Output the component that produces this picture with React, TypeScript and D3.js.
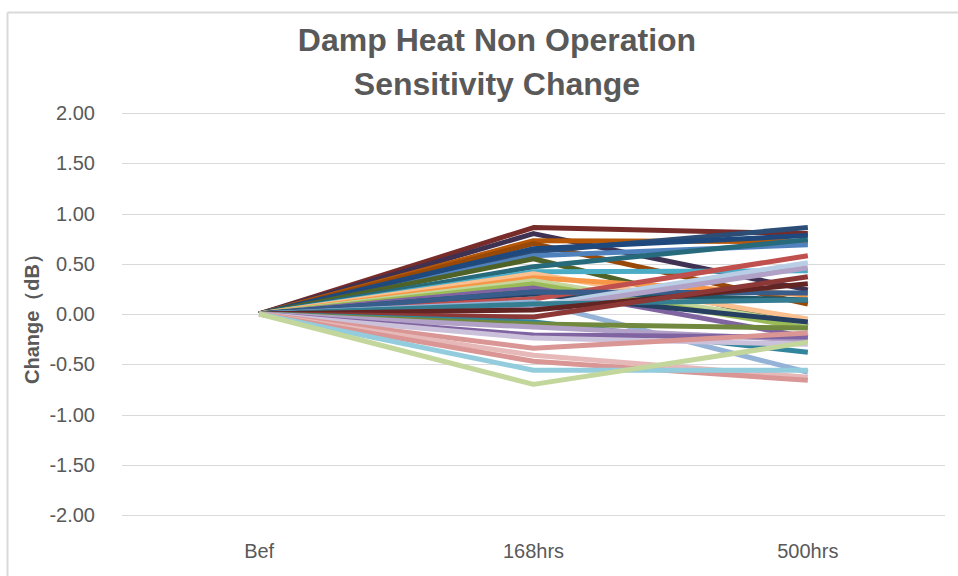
import React from "react";
import * as d3 from "d3";

// categories along the x axis
const categories = ["Bef", "168hrs", "500hrs"];

// y ticks (dB)
const yTicks = [2, 1.5, 1, 0.5, 0, -0.5, -1, -1.5, -2];

// each sample: change at Bef, 168hrs, 500hrs
const seriesValues = [
  [0, 0.86, 0.8],
  [0, 0.8, 0.24],
  [0, 0.73, 0.72],
  [0, 0.7, 0.1],
  [0, 0.62, 0.86],
  [0, 0.58, 0.69],
  [0, 0.65, 0.78],
  [0, 0.55, -0.12],
  [0, 0.47, 0.74],
  [0, 0.42, 0.43],
  [0, 0.4, -0.05],
  [0, 0.36, 0.19],
  [0, 0.33, -0.1],
  [0, 0.3, -0.14],
  [0, 0.26, -0.23],
  [0, 0.22, 0.14],
  [0, 0.2, -0.08],
  [0, 0.15, 0.58],
  [0, 0.22, 0.21],
  [0, 0.12, -0.58],
  [0, 0.08, 0.51],
  [0, 0.05, 0.46],
  [0, 0.1, 0.14],
  [0, 0.04, 0.3],
  [0, -0.03, 0.37],
  [0, -0.08, -0.38],
  [0, -0.1, -0.14],
  [0, -0.13, -0.26],
  [0, -0.21, -0.23],
  [0, -0.24, -0.3],
  [0, -0.34, -0.19],
  [0, -0.41, -0.63],
  [0, -0.47, -0.66],
  [0, -0.56, -0.56],
  [0, -0.7, -0.28],
];

const seriesColors = [
  "#772C2A", "#3F3151", "#B65708", "#984807", "#2C4D75", "#4F81BD",
  "#1F497D", "#4F6228", "#276A7C", "#4BACC6", "#FAC090", "#F79646",
  "#C3D69B", "#9BBB59", "#8064A2", "#215968", "#254061", "#C0504D",
  "#385D8A", "#95B3D7", "#B9CDE5", "#B2A1C7", "#357D91", "#632523",
  "#8C3836", "#31859C", "#71893F", "#B2A1C7", "#8064A2", "#CCC1DA",
  "#D99694", "#E6B9B8", "#D99694", "#93CDDD", "#C3D69B",
];

const W = 958;
const H = 576;
const left = 122;
const right = 945;
const top = 113;
const bottom = 515;
const textColor = "#595959";
const gridColor = "#d9d9d9";
const font = "'Liberation Sans', Arial, sans-serif";

export default function App() {
  const x = d3.scaleBand().domain(categories).range([left, right]);
  const cx = (c) => x(c) + x.bandwidth() / 2;
  const y = d3.scaleLinear().domain([-2, 2]).range([bottom, top]);
  // plain hyphen for negatives, like the original
  const fmt = (v) => v.toFixed(2);

  const line = d3
    .line()
    .x((d, i) => cx(categories[i]))
    .y((d) => y(d));

  return (
    <svg
      width={W}
      height={H}
      style={{ position: "absolute", left: 0, top: 0, background: "#fff" }}
      fontFamily={font}
    >
      {/* chart frame, only left and top visible */}
      <line x1={7.5} y1={12.5} x2={W} y2={12.5} stroke={gridColor} strokeWidth={2} />
      <line x1={7.5} y1={12.5} x2={7.5} y2={H} stroke={gridColor} strokeWidth={2} />

      <text x={497} y={51} textAnchor="middle" fontSize={32} fontWeight="bold" fill={textColor}>
        Damp Heat Non Operation
      </text>
      <text x={497} y={95} textAnchor="middle" fontSize={32} fontWeight="bold" fill={textColor}>
        Sensitivity Change
      </text>

      {yTicks.map((t) => (
        <g key={t}>
          <line x1={left} x2={right} y1={Math.round(y(t)) + 0.5} y2={Math.round(y(t)) + 0.5} stroke={gridColor} strokeWidth={1} />
          <text x={95} y={y(t)} dy="0.36em" textAnchor="end" fontSize={20} fill={textColor}>
            {fmt(t)}
          </text>
        </g>
      ))}

      {categories.map((c) => (
        <text key={c} x={cx(c)} y={558} textAnchor="middle" fontSize={20} fill={textColor}>
          {c}
        </text>
      ))}

      <text
        transform={`translate(39,${y(0)}) rotate(-90)`}
        textAnchor="middle"
        fontSize={20}
        fontWeight="bold"
        fill={textColor}
      >
        Change（dB）
      </text>

      <g fill="none" strokeWidth={5} strokeLinejoin="round" strokeLinecap="butt">
        {seriesValues.map((s, i) => (
          <path key={i} d={line(s)} stroke={seriesColors[i % seriesColors.length]} />
        ))}
      </g>
    </svg>
  );
}
